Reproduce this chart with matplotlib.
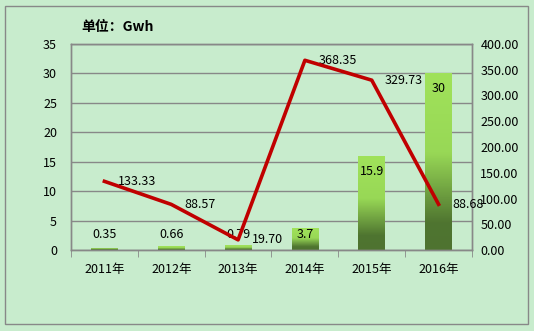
import numpy as np
import matplotlib
matplotlib.use('Agg')
import matplotlib.pyplot as plt
from matplotlib.colors import LinearSegmentedColormap
from matplotlib.patches import Rectangle

plt.rcParams['font.family'] = ['Noto Sans CJK SC', 'DejaVu Sans']

# 数据
years = ['2011年', '2012年', '2013年', '2014年', '2015年', '2016年']
energy = [0.35, 0.66, 0.79, 3.7, 15.9, 30]          # 柱状图，左轴 (Gwh)
growth = [133.33, 88.57, 19.70, 368.35, 329.73, 88.68]  # 折线，右轴

bg = '#C8ECCD'
grid_c = '#888888'

fig = plt.figure(figsize=(5.34, 3.31), dpi=100, facecolor=bg)
ax = fig.add_axes([71/534, 1-250/331, (472-71)/534, 206/331])
ax.set_facecolor(bg)
ax2 = ax.twinx()

x = np.arange(len(years))

# 柱子渐变：上亮绿，下深绿
grad = LinearSegmentedColormap.from_list('g', [(0, '#4E7330'), (0.15, '#4F7530'),
                                               (0.55, '#98D856'), (1, '#A0E25A')])
bars = ax.bar(x, energy, width=0.4, color='none', zorder=2)
for b in bars:
    x0, y0 = b.get_x(), b.get_y()
    w, h = b.get_width(), b.get_height()
    img = np.linspace(0, 1, 100).reshape(-1, 1)
    im = ax.imshow(img, cmap=grad, origin='lower', aspect='auto',
                   extent=[x0, x0 + w, y0, y0 + h], zorder=2)
    im.set_clip_path(b)

# 柱子数值标签
for xi, v in zip(x, energy):
    ax.text(xi, max(v - 2.55, 2.55), f'{v:g}', ha='center', va='center',
            fontsize=9, color='black', zorder=5)

ax.set_xlim(-0.5, len(years) - 0.5)
ax.set_ylim(0, 35)
ax.set_yticks(range(0, 36, 5))
ax.yaxis.grid(True, color=grid_c, linewidth=1)
ax.set_axisbelow(True)
ax.set_xticks(x)
ax.set_xticklabels(years, fontsize=9)
ax.set_xticks(np.arange(-0.5, len(years)), minor=True)
ax.tick_params(axis='x', which='major', length=0, pad=9)
ax.tick_params(axis='x', which='minor', length=5, color=grid_c)
ax.tick_params(axis='y', length=0, labelsize=9, pad=10)

# 折线，右轴
ax2.plot(x, growth, color='#C00000', linewidth=2.6, zorder=4)
for xi, v in zip(x, growth):
    ax2.text(xi + 0.2, v, f'{v:.2f}', ha='left', va='center', fontsize=9, color='black')
ax2.set_ylim(0, 400)
ax2.set_yticks(range(0, 401, 50))
ax2.set_yticklabels([f'{t:.2f}' for t in range(0, 401, 50)])
ax2.tick_params(axis='y', length=0, labelsize=9, pad=6)

for a in (ax, ax2):
    for s in a.spines.values():
        s.set_color(grid_c)
        s.set_linewidth(1)

fig.text(81/534, 1-27/331, '单位：Gwh', fontsize=10, fontweight='bold', va='center')

# 外边框
fig.patches.append(Rectangle((5/534, 1-324/331), 523/534, 318/331, transform=fig.transFigure,
                             fill=False, edgecolor=grid_c, linewidth=1))

fig.savefig('out.png', dpi=100, facecolor=bg)
